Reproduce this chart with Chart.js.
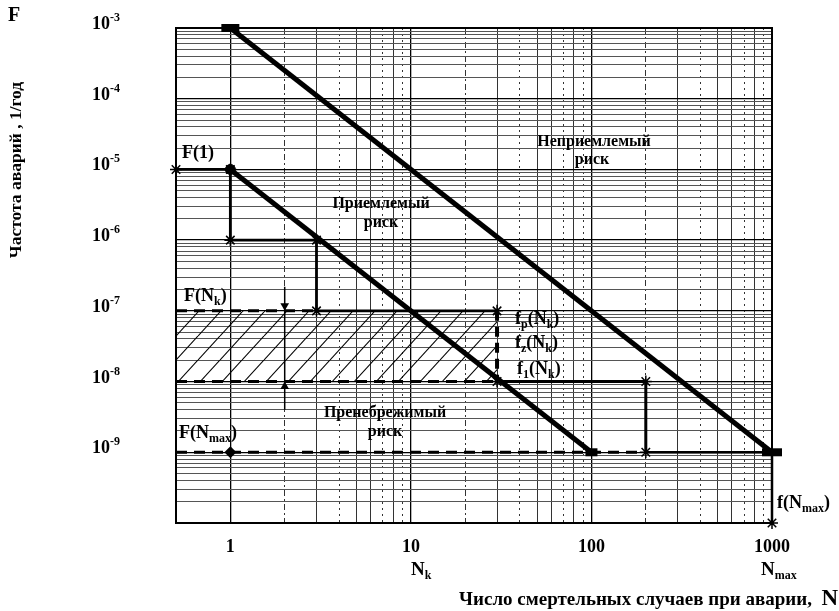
<!DOCTYPE html>
<html>
<head>
<meta charset="utf-8">
<script src="https://cdn.jsdelivr.net/npm/chart.js@4/dist/chart.umd.min.js"></script>
<style>
  body { margin: 0; background: #fff; }
  canvas { display: block; }
</style>
</head>
<body>
<canvas id="fn" width="839" height="611"></canvas>
<script>
// --- data (N = deaths, F = frequency 1/year) ---
const xTickVals = [1, 10, 100, 1000];
const xTickLabels = ['1', '10', '100', '1000'];
const yTickVals = [1e-3, 1e-4, 1e-5, 1e-6, 1e-7, 1e-8, 1e-9];
const yTickExps = ['-3', '-4', '-5', '-6', '-7', '-8', '-9'];

const upperN = [1, 1000];           // unacceptable risk boundary
const upperF = [1e-3, 1e-9];
const lowerN = [1, 100];            // acceptable risk boundary
const lowerF = [1e-5, 1e-9];
const stepN = [0.5, 1, 1, 3, 3, 30];
const stepF = [1e-5, 1e-5, 1e-6, 1e-6, 1e-7, 1e-7];
const fkN = [0.5, 3];               // F(Nk), dashed
const fkF = [1e-7, 1e-7];
const hatchN = [0.5, 30];
const hatchF = [1e-7, 1e-7];
const f1N = [0.5, 30];              // lower edge of band, dashed
const f1F = [1e-8, 1e-8];
const fzN = [30, 30];
const fzF = [1e-7, 1e-8];
const tailN = [30, 200, 200];
const tailF = [1e-8, 1e-8, 1e-9];
const fmaxN = [0.5, 200];           // F(Nmax), dashed
const fmaxF = [1e-9, 1e-9];
const endN = [200, 1000, 1000];
const endF = [1e-9, 1e-9, 1e-10];
const diamondN = [1];
const diamondF = [1e-9];
const stemN = [2, 2];
const stemF = [2.2e-7, 4e-9];
const headN = [2, 2];
const headF = [1.18e-7, 8.5e-9];

const FONT = '"Liberation Serif", "Times New Roman", serif';

function pts(xs, ys) {
    return xs.map((x, i) => ({ x: x, y: ys[i] }));
}

function hatchPattern() {
    const c = document.createElement('canvas');
    c.width = 22; c.height = 24;
    const g = c.getContext('2d');
    g.strokeStyle = '#000';
    g.lineWidth = 1.1;
    [-1, 0, 1].forEach(k => {
        g.beginPath();
        g.moveTo(k * 22, 24);
        g.lineTo(k * 22 + 22, 0);
        g.stroke();
    });
    return g.createPattern(c, 'repeat');
}

function line(data, width, extra) {
    return Object.assign({
        data: data,
        borderColor: '#000',
        backgroundColor: '#000',
        borderWidth: width,
        pointRadius: 0,
        pointBorderColor: '#000',
        pointBackgroundColor: '#000',
        tension: 0,
        fill: false,
        clip: false
    }, extra || {});
}

const datasets = [
    line(pts(upperN, upperF), 5, {
        pointStyle: 'line', pointRadius: [9, 10], pointBorderWidth: 8
    }),
    line(pts(lowerN, lowerF), 5, {
        pointStyle: ['circle', 'line'], pointRadius: [5, 6], pointBorderWidth: [1, 8]
    }),
    line(pts(stepN, stepF), 2.8, {
        pointStyle: 'star', pointRadius: 6, pointBorderWidth: 1.5
    }),
    line(pts(fkN, fkF), 3, { borderDash: [11, 7] }),
    line(pts(hatchN, hatchF), 0, { fill: '+1', backgroundColor: hatchPattern() }),
    line(pts(f1N, f1F), 3, { borderDash: [11, 7] }),
    line(pts(fzN, fzF), 4, { borderDash: [10, 6] }),
    line(pts(tailN, tailF), 3, {
        pointStyle: 'star', pointRadius: 6, pointBorderWidth: 1.5
    }),
    line(pts(fmaxN, fmaxF), 3, { borderDash: [11, 7] }),
    line(pts(endN, endF), 2.5, {
        pointStyle: 'star', pointRadius: [0, 0, 6], pointBorderWidth: 1.5
    }),
    line(pts(diamondN, diamondF), 0, {
        showLine: false, pointStyle: 'rectRot', pointRadius: 6
    }),
    line(pts(stemN, stemF), 1.5),
    line(pts(headN, headF), 0, {
        showLine: false, pointStyle: 'triangle', pointRadius: 5, rotation: [180, 0]
    })
];

// log grid: 1..9 per decade
function logGrid(fromExp, toExp, min, max) {
    const out = [];
    for (let e = fromExp; e <= toExp; e++) {
        for (let m = 1; m <= 9; m++) {
            const v = m * Math.pow(10, e);
            if (v >= min * 0.999 && v <= max * 1.001) out.push({ value: v, major: m === 1 });
        }
    }
    return out;
}

function mant(v) {
    return Math.round(v / Math.pow(10, Math.floor(Math.log10(v) + 1e-9)));
}

const xDash = { 2: [6, 3, 2, 3], 4: [2, 4], 7: [2, 4], 9: [2, 4] };

// frame, tick labels and annotations
function rich(ctx, parts, x, y, align) {
    let w = 0;
    parts.forEach(p => {
        ctx.font = 'bold ' + p[1] + 'px ' + FONT;
        w += ctx.measureText(p[0]).width;
    });
    let cx = align === 'center' ? x - w / 2 : (align === 'right' ? x - w : x);
    ctx.textAlign = 'left';
    ctx.textBaseline = 'alphabetic';
    parts.forEach(p => {
        ctx.font = 'bold ' + p[1] + 'px ' + FONT;
        ctx.fillText(p[0], cx, y + (p[2] || 0));
        cx += ctx.measureText(p[0]).width;
    });
}

const notes = [
    { parts: [['F', 20]], x: 8, y: 21, align: 'left' },
    { parts: [['F(1)', 18]], x: 182, y: 158, align: 'left' },
    { parts: [['F(N', 18], ['k', 12, 4], [')', 18]], x: 184, y: 301, align: 'left' },
    { parts: [['F(N', 18], ['max', 12, 4], [')', 18]], x: 179, y: 438, align: 'left' },
    { parts: [['f', 18], ['p', 12, 4], ['(N', 18], ['k', 12, 4], [')', 18]], x: 515, y: 324, align: 'left' },
    { parts: [['f', 18], ['z', 12, 4], ['(N', 18], ['k', 12, 4], [')', 18]], x: 515, y: 348, align: 'left' },
    { parts: [['f', 18], ['1', 12, 4], ['(N', 18], ['k', 12, 4], [')', 18]], x: 517, y: 374, align: 'left' },
    { parts: [['f(N', 18], ['max', 12, 4], [')', 18]], x: 777, y: 508, align: 'left' },
    { parts: [['N', 19], ['k', 12, 4]], x: 411, y: 575, align: 'left' },
    { parts: [['N', 19], ['max', 12, 4]], x: 761, y: 575, align: 'left' },
    { parts: [['Неприемлемый', 16]], x: 594, y: 146, align: 'center' },
    { parts: [['риск', 16]], x: 592, y: 164, align: 'center' },
    { parts: [['Приемлемый', 16]], x: 381, y: 208, align: 'center' },
    { parts: [['риск', 16]], x: 381, y: 227, align: 'center' },
    { parts: [['Пренебрежимый', 16]], x: 385, y: 417, align: 'center' },
    { parts: [['риск', 16]], x: 385, y: 436, align: 'center' },
    { parts: [['Число смертельных случаев при аварии,  ', 19], ['N', 23]], x: 838, y: 605, align: 'right' }
];

const decor = {
    id: 'decor',
    beforeDatasetsDraw(chart) {
        const a = chart.chartArea, ctx = chart.ctx;
        ctx.save();
        ctx.strokeStyle = '#000';
        ctx.lineWidth = 2;
        ctx.strokeRect(a.left, a.top, a.right - a.left, a.bottom - a.top);
        ctx.restore();
    },
    afterDraw(chart) {
        const ctx = chart.ctx, xs = chart.scales.x, ys = chart.scales.y;
        ctx.save();
        ctx.fillStyle = '#000';
        xTickVals.forEach((v, i) => {
            rich(ctx, [[xTickLabels[i], 18]], xs.getPixelForValue(v), 552, 'center');
        });
        yTickVals.forEach((v, i) => {
            rich(ctx, [['10', 18], [yTickExps[i], 12, -8]], 92, ys.getPixelForValue(v) + 1, 'left');
        });
        notes.forEach(n => rich(ctx, n.parts, n.x, n.y, n.align));
        // y axis title
        ctx.translate(21, 170);
        ctx.rotate(-Math.PI / 2);
        rich(ctx, [['Частота аварий , 1/год', 17.5]], 0, 0, 'center');
        ctx.restore();
    }
};

new Chart(document.getElementById('fn'), {
    type: 'line',
    data: { datasets: datasets },
    options: {
        responsive: false,
        animation: false,
        events: [],
        layout: { padding: { left: 176, right: 67, top: 28, bottom: 88 } },
        plugins: { legend: { display: false }, tooltip: { enabled: false } },
        scales: {
            x: {
                type: 'logarithmic',
                min: 0.5,
                max: 1000,
                afterBuildTicks: s => { s.ticks = logGrid(0, 3, 0.5, 1000).filter(t => t.value >= 1); },
                ticks: { display: false },
                grid: {
                    drawTicks: false,
                    color: c => c.tick && c.tick.major ? '#000' : '#333',
                    lineWidth: c => c.tick && c.tick.major ? 1.3 : 1
                },
                border: {
                    display: false,
                    dash: c => (c.tick && xDash[mant(c.tick.value)]) || []
                }
            },
            y: {
                type: 'logarithmic',
                min: 1e-10,
                max: 1e-3,
                afterBuildTicks: s => { s.ticks = logGrid(-10, -3, 1e-10, 1e-3); },
                ticks: { display: false },
                grid: {
                    drawTicks: false,
                    color: c => c.tick && c.tick.major ? '#000' : '#555',
                    lineWidth: c => c.tick && c.tick.major ? 1.3 : 1
                },
                border: { display: false }
            }
        }
    },
    plugins: [decor]
});
</script>
</body>
</html>
